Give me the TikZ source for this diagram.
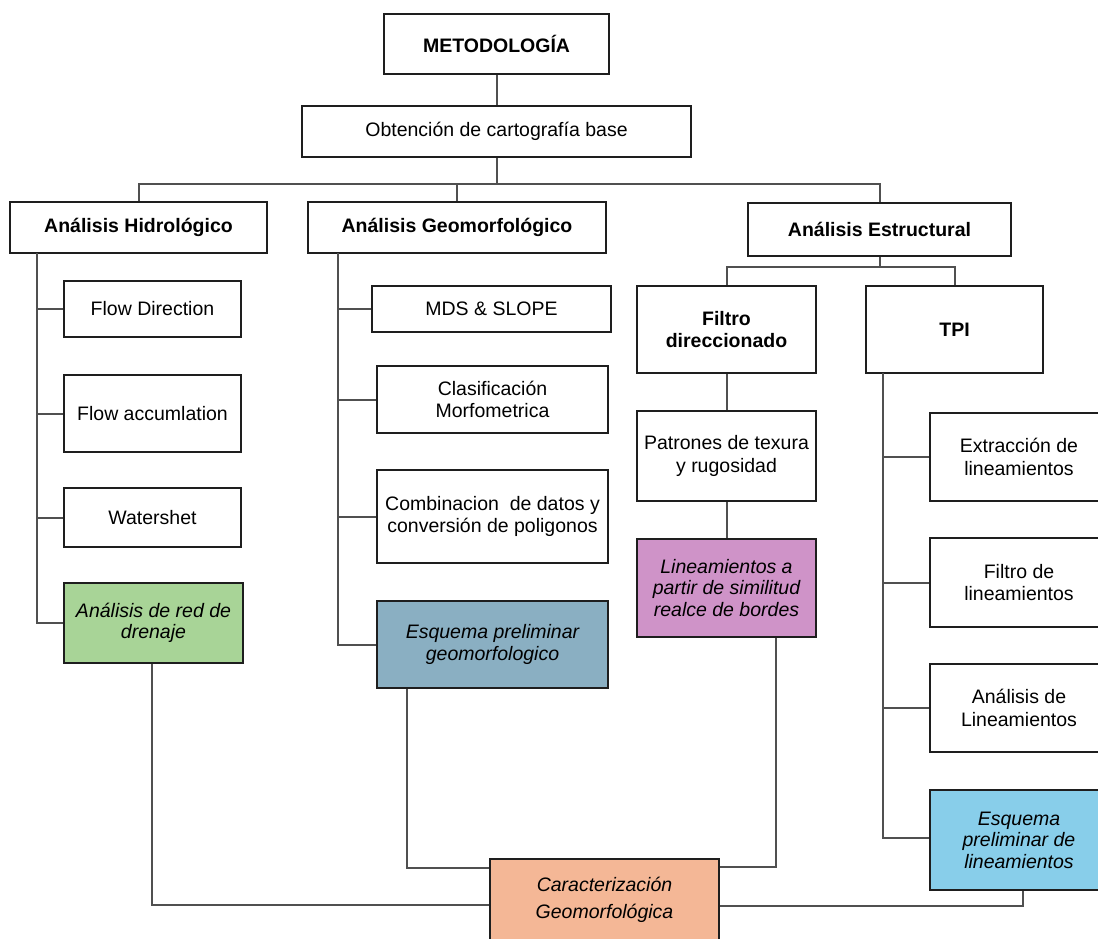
\documentclass[tikz,border=0pt]{standalone}
\usepackage{fontspec}
\setmainfont{Liberation Sans}
\definecolor{cgreen}{HTML}{A8D497}
\definecolor{cbluegray}{HTML}{8AAFC2}
\definecolor{cpurple}{HTML}{CF93C8}
\definecolor{csky}{HTML}{88CEEA}
\definecolor{cpeach}{HTML}{F4B796}
\definecolor{cline}{HTML}{505050}
\definecolor{cborder}{HTML}{1E1E1E}
\tikzset{
  box/.style={draw=cborder, line width=1.5pt, fill=white, align=center, inner sep=2pt,
    font=\fontsize{19.5}{22.5}\selectfont},
  hbox/.style={box, font=\fontsize{19.5}{22.5}\selectfont\bfseries},
  ibox/.style={box, font=\fontsize{19.5}{21.5}\selectfont\itshape},
  conn/.style={draw=cline, line width=2pt},
}
\begin{document}
\begin{tikzpicture}[x=1pt,y=-1pt]
\useasboundingbox (0,0) rectangle (1098,938);
\clip (0,0) rectangle (1098,938);
\fill[white] (0,0) rectangle (1098,938);

% connectors (drawn first, boxes on top)
\coordinate (b1) at (496.5,184);
\coordinate (b2) at (879.5,267);
\coordinate (hs) at (37,253);
\coordinate (gs) at (338,253);
\coordinate (ts) at (883,373);

% nodes
\node[hbox, minimum width=225, minimum height=60] (met) at (496.5,44) {METODOLOGÍA};
\node[box, minimum width=389, minimum height=51] (obt) at (496.5,131.5) {Obtención de cartografía base};
\node[hbox, minimum width=257, minimum height=51] (hid) at (138.5,227.5) {Análisis Hidrológico};
\node[hbox, minimum width=298, minimum height=51] (geo) at (457,227.5) {Análisis Geomorfológico};
\node[hbox, minimum width=263, minimum height=53] (est) at (879.5,229.5) {Análisis Estructural};

\node[box, minimum width=177, minimum height=56] (fd) at (152.5,309) {Flow Direction};
\node[box, minimum width=177, minimum height=77] (fa) at (152.5,413.5) {Flow accumlation};
\node[box, minimum width=177, minimum height=59] (ws) at (152.5,517.5) {Watershet};
\node[ibox, fill=cgreen, minimum width=179, minimum height=80] (red) at (153.5,623) {Análisis de red de\\drenaje};

\node[box, minimum width=239, minimum height=46] (mds) at (491.5,309) {MDS \& SLOPE};
\node[box, minimum width=231, minimum height=67] (cla) at (492.5,399.5) {Clasificación\\Morfometrica};
\node[box, minimum width=231, minimum height=93] (com) at (492.5,516.5) {Combinacion\ \ de datos y\\conversión de poligonos};
\node[ibox, fill=cbluegray, minimum width=231, minimum height=87] (esg) at (492.5,644.5) {Esquema preliminar\\geomorfologico};

\node[hbox, minimum width=179, minimum height=87] (fil) at (726.5,329.5) {Filtro\\direccionado};
\node[hbox, minimum width=177, minimum height=87] (tpi) at (954.5,329.5) {TPI};
\node[box, minimum width=179, minimum height=90] (pat) at (726.5,456) {Patrones de texura\\y rugosidad};
\node[ibox, fill=cpurple, minimum width=179, minimum height=98] (lin) at (726.5,588) {Lineamientos a\\partir de similitud\\realce de bordes};

\node[box, minimum width=178, minimum height=88] (ext) at (1019,457) {Extracción de\\lineamientos};
\node[box, minimum width=178, minimum height=89] (fli) at (1019,582.5) {Filtro de\\lineamientos};
\node[box, minimum width=178, minimum height=88] (ali) at (1019,708) {Análisis de\\Lineamientos};
\node[ibox, fill=csky, minimum width=178, minimum height=100] (esl) at (1019,840) {Esquema\\preliminar de\\lineamientos};

\node[ibox, fill=cpeach, minimum width=229, minimum height=81, font=\fontsize{19.5}{27}\selectfont\itshape] (car) at (604.5,899.5) {Caracterización\\Geomorfológica};

\draw[conn] (met) -- (obt);
\draw[conn] (obt.south) -- (b1);
\draw[conn] (b1) -| (hid.north);
\draw[conn] (b1) -| (geo.north);
\draw[conn] (b1) -| (est.north);

\draw[conn] (hs) |- (fd.west);
\draw[conn] (hs) |- (fa.west);
\draw[conn] (hs) |- (ws.west);
\draw[conn] (hs) |- (red.west);

\draw[conn] (gs) |- (mds.west);
\draw[conn] (gs) |- (cla.west);
\draw[conn] (gs) |- (com.west);
\draw[conn] (gs) |- (esg.west);

\draw[conn] (est.south) -- (b2);
\draw[conn] (b2) -| (fil.north);
\draw[conn] (b2) -| (tpi.north);
\draw[conn] (fil) -- (pat);
\draw[conn] (pat) -- (lin);

\draw[conn] (ts) |- (ext.west);
\draw[conn] (ts) |- (fli.west);
\draw[conn] (ts) |- (ali.west);
\draw[conn] (ts) |- ([yshift=2pt]esl.west);

\draw[conn] ([xshift=-1.5pt]red.south) |- ([yshift=-5.5pt]car.west);
\draw[conn] ([xshift=31pt]esg.south west) |- ([yshift=-10pt]car.north west);
\draw[conn] ([xshift=-41pt]lin.south east) |- ([yshift=-9pt]car.north east);
\draw[conn] ([xshift=94pt]esl.south west) |- ([yshift=-6.5pt]car.east);
\end{tikzpicture}
\end{document}
